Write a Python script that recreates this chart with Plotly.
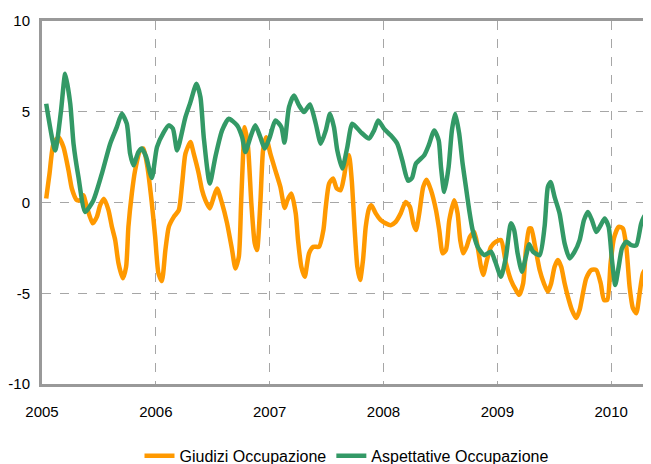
import plotly.graph_objects as go

# Giudizi Occupazione (orange)
giudizi_x = [2005.037, 2005.066, 2005.101, 2005.145, 2005.189, 2005.233, 2005.262, 2005.306, 2005.35, 2005.364,
             2005.394, 2005.445, 2005.482, 2005.511, 2005.545, 2005.584, 2005.614, 2005.643, 2005.672, 2005.71,
             2005.739, 2005.759, 2005.789, 2005.818, 2005.862, 2005.891, 2005.926, 2005.965, 2005.994, 2006.023,
             2006.053, 2006.084, 2006.114, 2006.158, 2006.202, 2006.231, 2006.26, 2006.304, 2006.333, 2006.377,
             2006.406, 2006.435, 2006.474, 2006.509, 2006.538, 2006.582, 2006.626, 2006.67, 2006.699, 2006.729,
             2006.749, 2006.767, 2006.781, 2006.81, 2006.839, 2006.869, 2006.889, 2006.918, 2006.942, 2006.968,
             2007.006, 2007.05, 2007.094, 2007.132, 2007.156, 2007.191, 2007.229, 2007.249, 2007.278, 2007.308,
             2007.346, 2007.384, 2007.434, 2007.472, 2007.493, 2007.522, 2007.557, 2007.589, 2007.624, 2007.653,
             2007.677, 2007.697, 2007.721, 2007.747, 2007.77, 2007.794, 2007.82, 2007.844, 2007.873, 2007.893,
             2007.932, 2007.976, 2008.02, 2008.063, 2008.107, 2008.151, 2008.195, 2008.232, 2008.262, 2008.285,
             2008.314, 2008.349, 2008.379, 2008.417, 2008.461, 2008.49, 2008.52, 2008.549, 2008.578, 2008.622,
             2008.651, 2008.674, 2008.7, 2008.73, 2008.759, 2008.797, 2008.827, 2008.856, 2008.876, 2008.909,
             2008.944, 2008.988, 2009.032, 2009.076, 2009.119, 2009.163, 2009.192, 2009.227, 2009.251, 2009.28,
             2009.298, 2009.327, 2009.372, 2009.409, 2009.444, 2009.473, 2009.503, 2009.532, 2009.561, 2009.591,
             2009.62, 2009.655, 2009.693, 2009.723, 2009.752, 2009.781, 2009.825, 2009.869, 2009.908, 2009.937,
             2009.966, 2009.995, 2010.024, 2010.066, 2010.103, 2010.133, 2010.162, 2010.191, 2010.221, 2010.25,
             2010.279, 2010.317, 2010.346]
giudizi_y = [0.22, 1.59, 3.24, 3.60, 3.05, 1.77, 0.77, 0.13, 0.15, 0.40,
             -0.24, -1.15, -0.79, -0.15, 0.20, -0.42, -1.34, -2.07, -3.35, -4.18,
             -3.54, -1.34, 0.49, 1.77, 2.87, 2.97, 1.96, -0.05, -1.89, -3.90,
             -4.33, -2.62, -1.34, -0.79, -0.42, 1.04, 2.69, 3.33, 2.69, 1.59,
             0.68, 0.13, -0.33, 0.31, 0.77, -0.05, -1.15, -2.62, -3.63, -2.99,
             -0.05, 2.69, 4.15, 3.05, -0.05, -2.25, -2.62, -0.05, 2.87, 3.60,
             2.69, 1.77, 0.86, -0.30, 0.13, 0.49, -0.60, -2.07, -3.54, -4.09,
             -2.80, -2.44, -2.44, -1.52, -0.24, 1.04, 1.32, 0.77, 0.68, 1.41,
             2.32, 2.60, 1.23, -1.52, -3.54, -4.27, -3.17, -1.34, -0.33, -0.15,
             -0.60, -0.97, -1.15, -1.25, -1.07, -0.60, 0.03, -0.24, -1.15, -1.52,
             -0.60, 0.86, 1.26, 0.68, -0.42, -1.52, -2.80, -2.62, -0.97, 0.13,
             -0.60, -2.07, -2.80, -2.44, -1.89, -1.62, -2.44, -3.54, -3.99, -3.17,
             -2.44, -2.16, -2.07, -3.35, -4.27, -4.82, -5.09, -4.45, -2.62, -1.43,
             -1.43, -2.25, -3.72, -4.45, -4.91, -4.45, -3.54, -3.17, -3.54, -4.45,
             -5.19, -5.92, -6.37, -5.92, -5.00, -4.18, -3.72, -3.72, -4.45, -5.37,
             -5.37, -3.35, -1.98, -1.34, -1.43, -2.44, -4.64, -5.82, -6.10, -5.00,
             -3.90, -3.54, -3.35]

# Aspettative Occupazione (green)
aspettative_x = [2005.037, 2005.116, 2005.166, 2005.204, 2005.248, 2005.277, 2005.32, 2005.379, 2005.452, 2005.526,
                 2005.599, 2005.657, 2005.701, 2005.745, 2005.774, 2005.803, 2005.847, 2005.877, 2005.915, 2005.965,
                 2006.01, 2006.07, 2006.114, 2006.15, 2006.187, 2006.26, 2006.304, 2006.357, 2006.392, 2006.421,
                 2006.474, 2006.523, 2006.582, 2006.641, 2006.714, 2006.758, 2006.787, 2006.831, 2006.874, 2006.918,
                 2006.957, 2007.001, 2007.05, 2007.103, 2007.13, 2007.17, 2007.214, 2007.258, 2007.302, 2007.354,
                 2007.405, 2007.449, 2007.493, 2007.53, 2007.565, 2007.594, 2007.638, 2007.682, 2007.726, 2007.8,
                 2007.873, 2007.917, 2007.954, 2008.004, 2008.063, 2008.121, 2008.165, 2008.215, 2008.25, 2008.285,
                 2008.358, 2008.397, 2008.446, 2008.485, 2008.505, 2008.534, 2008.572, 2008.601, 2008.63, 2008.665,
                 2008.695, 2008.724, 2008.753, 2008.783, 2008.827, 2008.885, 2008.944, 2008.982, 2009.032, 2009.076,
                 2009.119, 2009.148, 2009.178, 2009.216, 2009.251, 2009.28, 2009.313, 2009.372, 2009.415, 2009.444,
                 2009.468, 2009.503, 2009.547, 2009.591, 2009.635, 2009.679, 2009.723, 2009.761, 2009.796, 2009.831,
                 2009.869, 2009.908, 2009.943, 2009.978, 2010.007, 2010.036, 2010.066, 2010.095, 2010.133, 2010.177,
                 2010.221, 2010.264, 2010.299, 2010.346]
aspettative_y = [5.44, 2.87, 5.00, 7.09, 5.45, 3.24, 1.41, -0.52, 0.13, 1.59,
                 3.24, 4.15, 4.89, 4.34, 2.69, 2.05, 2.78, 2.97, 2.51, 1.35,
                 3.05, 3.88, 4.25, 4.07, 2.87, 4.70, 5.53, 6.54, 5.80, 3.60,
                 1.04, 2.51, 3.97, 4.61, 4.25, 3.60, 2.78, 3.60, 4.25, 3.60,
                 2.97, 3.60, 4.52, 4.15, 3.30, 5.25, 5.90, 5.35, 4.98, 5.40,
                 4.34, 3.24, 3.97, 4.89, 4.15, 2.87, 1.87, 3.05, 4.34, 3.88,
                 3.52, 3.97, 4.52, 4.07, 3.70, 3.24, 2.32, 1.20, 1.35, 2.14,
                 2.60, 3.15, 3.97, 3.42, 1.96, 0.58, 1.96, 3.97, 4.89, 3.79,
                 2.14, 0.86, -0.42, -1.52, -2.44, -2.90, -2.71, -3.26, -4.09, -2.99,
                 -1.15, -1.52, -2.80, -3.81, -2.99, -2.30, -2.71, -2.90, -1.34, 0.86,
                 1.13, 0.31, -0.60, -2.25, -3.08, -2.71, -2.07, -0.97, -0.52, -0.97,
                 -1.62, -1.25, -0.88, -1.34, -3.17, -4.54, -3.54, -2.53, -2.16, -2.35,
                 -2.35, -1.15, -0.70, -0.97]

year_ticks = [2005, 2006, 2007, 2008, 2009, 2010]
value_ticks = [-10, -5, 0, 5, 10]
value_tick_labels = ["-10", "-5", "0", "5", "10"]

FONT = "Liberation Sans, Arial, sans-serif"

fig = go.Figure()
fig.add_trace(go.Scatter(x=giudizi_x, y=giudizi_y, mode="lines", name="Giudizi Occupazione",
                         line=dict(color="#FF9900", width=4.5, shape="spline", smoothing=0.6)))
fig.add_trace(go.Scatter(x=aspettative_x, y=aspettative_y, mode="lines", name="Aspettative Occupazione",
                         line=dict(color="#339966", width=4.5, shape="spline", smoothing=0.6)))

# the page body has an 8px margin, so the figure is sized/offset to compensate
fig.update_layout(
    width=643, height=456,
    margin=dict(l=34, r=0, t=13, b=80, autoexpand=False),
    paper_bgcolor="white", plot_bgcolor="white",
    font=dict(family=FONT, size=15, color="#000000"),
    showlegend=True,
    legend=dict(orientation="h", x=0.5, xanchor="center", y=-0.151, yanchor="top",
                font=dict(family=FONT, size=16, color="#000000"),
                itemwidth=30, tracegroupgap=0),
)
fig.update_xaxes(
    range=[2005, 2010.35], tickvals=year_ticks, ticktext=[str(t) for t in year_ticks],
    showgrid=True, gridcolor="#A6A6A6", griddash="dash", gridwidth=1,
    showline=True, linecolor="#999999", linewidth=3, mirror=True,
    ticks="", ticklabelstandoff=12, zeroline=False, automargin=False,
    tickfont=dict(family=FONT, size=15, color="#000000"),
)
fig.update_yaxes(
    range=[-10, 10], tickvals=value_ticks, ticktext=value_tick_labels,
    showgrid=True, gridcolor="#A6A6A6", griddash="dash", gridwidth=1,
    showline=True, linecolor="#999999", linewidth=3, mirror=False,
    ticks="", ticklabelstandoff=6, zeroline=False, automargin=False,
    tickfont=dict(family=FONT, size=15, color="#000000"),
)

fig.write_html("out.html")
